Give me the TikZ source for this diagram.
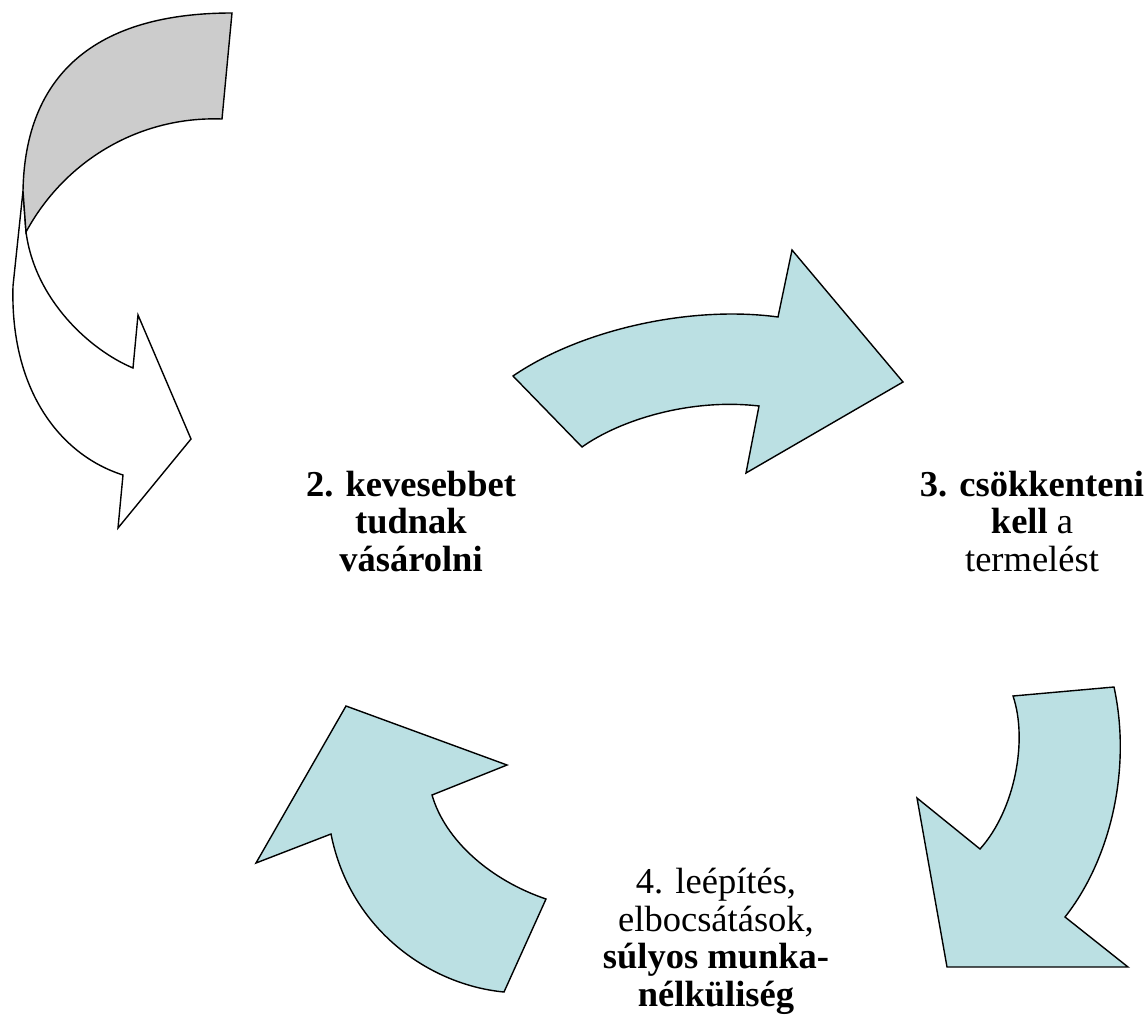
\documentclass[tikz,border=0pt]{standalone}
\usepackage{fontspec}
\setmainfont{Liberation Serif}
\definecolor{tealfill}{RGB}{187,224,227}
\definecolor{greyfill}{RGB}{204,204,204}
\begin{document}
\begin{tikzpicture}[x=1pt,y=-1pt,
  shapeline/.style={draw=black,line width=1.4pt,line join=miter},
  tealarrow/.style={shapeline,fill=tealfill},
  greyband/.style={shapeline,fill=greyfill},
  whiteband/.style={shapeline,fill=white},
  label/.style={align=center,inner sep=0pt,anchor=base,font=\fontsize{36.5}{37.5}\selectfont}]
\useasboundingbox (0,0) rectangle (1148,1033);
% top-left ribbon arrow
\draw[whiteband] (23,191) -- (13,286) .. controls (10,390) and (60,455) .. (123,475) -- (118,528) -- (191,439) -- (138,315) -- (133,368) .. controls (90,350) and (35,300) .. (26,232) -- cycle;
\draw[greyband] (23,191) .. controls (25,75) and (95,13) .. (232,13) -- (222,119) .. controls (140,116) and (65,160) .. (26,232) -- cycle;
% top-right arrow
\draw[tealarrow] (513,376) .. controls (580,330) and (690,305) .. (778,317) -- (792,250) -- (903,382) -- (746,473) -- (759,406) .. controls (690,398) and (620,420) .. (582,447) -- cycle;
% bottom-right arrow
\draw[tealarrow] (1013,696) -- (1114,687) .. controls (1132,770) and (1110,860) .. (1065,917) -- (1128,967) -- (947,967) -- (917,798) -- (980,849) .. controls (1015,810) and (1028,740) .. (1013,696) -- cycle;
% bottom-left arrow
\draw[tealarrow] (546,899) -- (504,992) .. controls (430,985) and (350,930) .. (331,834) -- (256,863) -- (346,706) -- (507,765) -- (432,795) .. controls (445,840) and (490,880) .. (546,899) -- cycle;
% texts (anchor base = baseline of last line)
\node[label] (t2) at (411,571) {\textbf{2. kevesebbet}\\\textbf{tudnak}\\\textbf{vásárolni}};
\node[label] (t3) at (1032,571) {\textbf{3. csökkenteni}\\\textbf{kell} a\\termelést};
\node[label] (t4) at (716,1006) {4. leépítés,\\elbocsátások,\\\textbf{súlyos munka-}\\\textbf{nélküliség}};
\end{tikzpicture}
\end{document}
